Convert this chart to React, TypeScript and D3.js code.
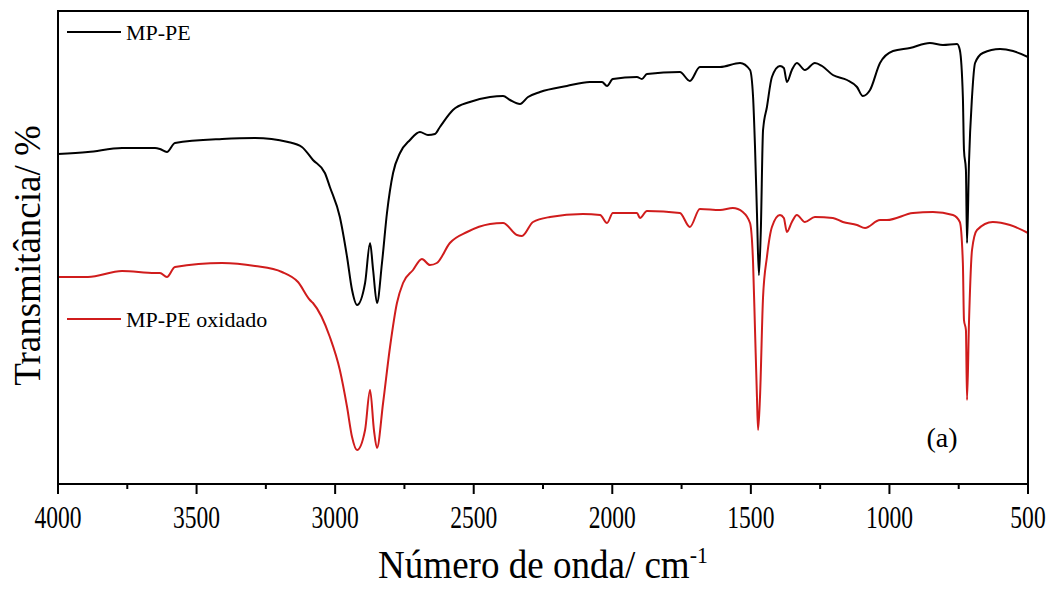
import React, { useEffect, useRef } from 'react'
import * as d3 from 'd3'

// wavenumber (cm-1) / transmittance (arbitrary units)
const mpPE: [number, number][] = [
  [4000, 66.0], [3892, 66.4], [3769, 67.2], [3650, 67.2], [3632, 67.0], [3607, 66.4],
  [3578, 68.2], [3408, 69.0], [3289, 69.2], [3170, 68.4], [3120, 67.4], [3080, 64.8],
  [3037, 62.2], [3019, 59.4], [2983, 53.4], [2957, 45.4], [2939, 38.8], [2921, 35.8],
  [2892, 40.2], [2874, 48.2], [2863, 42.8], [2849, 36.2], [2831, 44.2], [2813, 54.2],
  [2791, 62.2], [2766, 66.2], [2730, 68.8], [2694, 70.4], [2665, 69.8], [2640, 70.0],
  [2622, 71.4], [2575, 74.8], [2514, 76.4], [2441, 77.4], [2394, 77.6], [2369, 76.8],
  [2333, 76.0], [2304, 77.4], [2261, 78.4], [2164, 79.6], [2081, 80.4], [2037, 80.4],
  [2019, 79.6], [1998, 81.0], [1911, 81.4], [1893, 81.0], [1875, 82.0], [1756, 82.4],
  [1720, 80.6], [1684, 83.4], [1611, 83.4], [1539, 84.2], [1503, 82.8], [1492, 77.4],
  [1485, 67.4], [1478, 54.2], [1471, 41.8], [1464, 50.8], [1456, 70.8], [1442, 75.4],
  [1424, 81.4], [1395, 83.6], [1381, 83.2], [1370, 80.4], [1352, 82.8], [1334, 84.2],
  [1305, 82.8], [1269, 84.2], [1243, 83.6], [1204, 81.8], [1153, 80.8], [1117, 79.4],
  [1096, 77.6], [1070, 78.8], [1034, 84.2], [987, 86.6], [926, 87.2], [854, 88.2],
  [807, 87.8], [756, 88.0], [746, 86.8], [735, 77.4], [731, 66.8], [724, 62.8],
  [720, 48.2], [713, 64.2], [702, 77.4], [691, 84.2], [663, 86.2], [601, 87.0],
  [554, 86.6], [500, 85.4]
]

const mpPEox: [number, number][] = [
  [4000, 41.4], [3892, 41.4], [3769, 42.6], [3650, 42.2], [3632, 42.2], [3607, 41.4],
  [3578, 43.4], [3408, 44.2], [3289, 43.6], [3192, 42.4], [3134, 40.4], [3091, 36.8],
  [3080, 36.2], [3019, 29.4], [2983, 22.8], [2957, 15.4], [2939, 9.4], [2921, 6.8],
  [2892, 10.8], [2874, 18.8], [2860, 10.8], [2849, 7.2], [2827, 16.2], [2802, 27.4],
  [2777, 36.2], [2755, 40.2], [2719, 42.8], [2687, 45.0], [2658, 43.8], [2633, 44.2],
  [2586, 48.2], [2524, 50.4], [2441, 52.0], [2394, 52.2], [2344, 49.8], [2326, 49.6],
  [2286, 52.4], [2225, 53.4], [2106, 54.0], [2044, 53.8], [2019, 52.2], [1998, 54.2],
  [1911, 54.2], [1900, 53.2], [1875, 54.6], [1756, 54.2], [1720, 51.4], [1684, 55.0],
  [1611, 54.8], [1565, 55.2], [1529, 54.4], [1503, 52.2], [1492, 44.2], [1485, 30.8],
  [1478, 17.4], [1474, 10.8], [1467, 17.4], [1456, 37.4], [1442, 45.4], [1424, 51.4],
  [1395, 53.8], [1381, 53.2], [1370, 50.4], [1352, 52.4], [1334, 53.8], [1305, 52.4],
  [1269, 53.4], [1204, 53.2], [1168, 52.4], [1117, 51.8], [1088, 51.2], [1034, 52.8],
  [1009, 52.8], [915, 54.2], [843, 54.4], [771, 53.8], [746, 52.4], [735, 44.2],
  [731, 32.8], [724, 30.8], [720, 16.8], [713, 32.2], [702, 46.8], [684, 50.8],
  [627, 52.4], [565, 51.8], [500, 50.2]
]

const seriesNames = ['MP-PE', 'MP-PE oxidado']
const seriesColors = ['#000000', '#d01c1c']
const xTicks = [4000, 3500, 3000, 2500, 2000, 1500, 1000, 500]

export default function App(){
  const svgRef = useRef<SVGSVGElement>(null)

  useEffect(()=>{
    const width = 1059, height = 589
    const m = {top:11, right:31, bottom:105, left:58}
    const svg = d3.select(svgRef.current)
      .attr('width',width).attr('height',height)
    svg.selectAll('*').remove()

    const x = d3.scaleLinear().domain([4000,500]).range([m.left, width-m.right])
    const y = d3.scaleLinear().domain([0,94.6]).range([height-m.bottom, m.top])
    const font = '"Liberation Serif", "Times New Roman", serif'

    const line = d3.line<[number,number]>()
      .x(d=>x(d[0])).y(d=>y(d[1]))
      .curve(d3.curveMonotoneX)
    ;[mpPE, mpPEox].forEach((s,i)=>{
      svg.append('path').datum(s)
        .attr('d', line)
        .attr('fill','none')
        .attr('stroke', seriesColors[i])
        .attr('stroke-width',2)
        .attr('stroke-linejoin','round')
    })

    // frame
    svg.append('rect')
      .attr('x',m.left).attr('y',m.top)
      .attr('width',width-m.right-m.left).attr('height',height-m.bottom-m.top)
      .attr('fill','none').attr('stroke','#000').attr('stroke-width',2)

    const axisY = height-m.bottom
    const minor = d3.range(4000, 499, -250)
    svg.append('g').selectAll('line')
      .data(minor)
      .join('line')
      .attr('x1',d=>x(d)).attr('x2',d=>x(d))
      .attr('y1',axisY).attr('y2',d=>axisY + (d%500===0?10:5))
      .attr('stroke','#000').attr('stroke-width',2)

    svg.append('g').selectAll('text')
      .data(xTicks)
      .join('text')
      .attr('transform',d=>`translate(${x(d)},${axisY+44}) scale(0.76,1)`)
      .attr('text-anchor','middle')
      .attr('font-family',font)
      .attr('font-size',31)
      .text(d=>d)

    const xt = svg.append('text')
      .attr('transform',`translate(${(m.left+width-m.right)/2},578) scale(0.95,1)`)
      .attr('text-anchor','middle')
      .attr('font-family',font)
      .attr('font-size',39)
    xt.append('tspan').text('Número de onda/ cm')
    xt.append('tspan').attr('dy',-15).attr('font-size',23).text('-1')

    svg.append('text')
      .attr('transform',`translate(40,${(m.top+axisY)/2+8}) rotate(-90)`)
      .attr('text-anchor','middle')
      .attr('font-family',font)
      .attr('font-size',37)
      .text('Transmitância/ %')

    // legends
    const legends = [{y:32, i:0}, {y:319, i:1}]
    legends.forEach(({y:ly,i})=>{
      svg.append('line')
        .attr('x1',67).attr('x2',121).attr('y1',ly).attr('y2',ly)
        .attr('stroke',seriesColors[i]).attr('stroke-width',2)
      svg.append('text')
        .attr('x',126).attr('y',ly+8)
        .attr('font-family',font).attr('font-size',22)
        .text(seriesNames[i])
    })

    svg.append('text')
      .attr('x',942).attr('y',447)
      .attr('text-anchor','middle')
      .attr('font-family',font).attr('font-size',28)
      .text('(a)')
  },[])

  return (
    <div style={{position:'fixed', left:0, top:0, background:'#fff'}}>
      <svg ref={svgRef}></svg>
    </div>
  )
}
